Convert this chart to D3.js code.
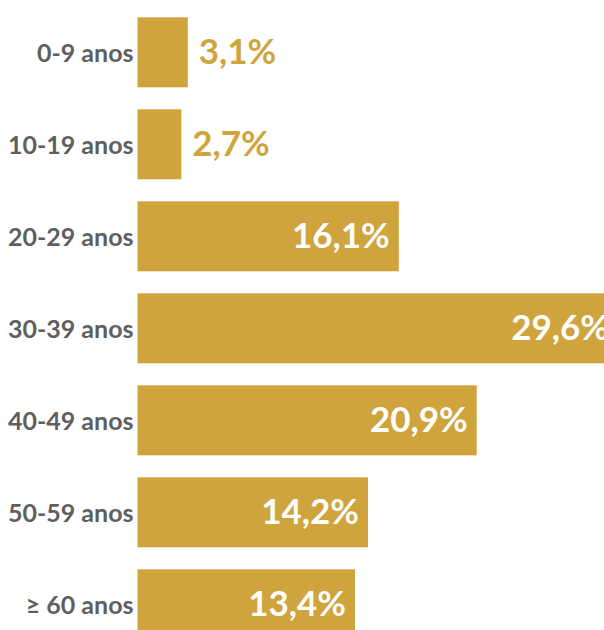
<!DOCTYPE html>
<html>
<head>
<meta charset="utf-8">
<script src="https://cdn.jsdelivr.net/npm/d3@7"></script>
<style>
  html, body { margin: 0; padding: 0; background: #fff; overflow: hidden; }
  svg { display: block; }
</style>
</head>
<body>
<div id="chart"></div>
<script>
  // Faixas etárias e percentuais
  var faixas = ["0-9 anos", "10-19 anos", "20-29 anos", "30-39 anos", "40-49 anos", "50-59 anos", "\u2265 60 anos"];
  var percentuais = [3.1, 2.7, 16.1, 29.6, 20.9, 14.2, 13.4];
  var rotulos = ["3,1%", "2,7%", "16,1%", "29,6%", "20,9%", "14,2%", "13,4%"];

  var W = 604, H = 630;
  var gold = "#cfa43d";
  var grey = "#5f5f5f";
  var fontFam = "Lato, 'Open Sans', sans-serif";

  var data = faixas.map(function (f, i) { return { faixa: f, valor: percentuais[i], rotulo: rotulos[i] }; });

  var svg = d3.select("#chart").append("svg").attr("width", W).attr("height", H);

  var x = d3.scaleLinear().domain([0, 29.6]).range([137.5, 137.5 + 29.6 * 16.23]);
  var y = d3.scaleBand()
    .domain(faixas)
    .range([17.3, 17.3 + 92 * (7 - 22 / 92)])
    .paddingInner(22 / 92)
    .paddingOuter(0);

  // Barras
  svg.selectAll(".bar")
    .data(data)
    .join("rect")
    .attr("class", "bar")
    .attr("x", x(0))
    .attr("y", function (d) { return y(d.faixa); })
    .attr("width", function (d) { return x(d.valor) - x(0); })
    .attr("height", y.bandwidth())
    .attr("fill", gold);

  // Rótulos das categorias
  svg.selectAll(".cat")
    .data(data)
    .join("text")
    .attr("class", "cat")
    .attr("x", x(0) - 4)
    .attr("y", function (d) { return y(d.faixa) + y.bandwidth() / 2 + 10; })
    .attr("text-anchor", "end")
    .attr("font-family", fontFam)
    .attr("font-weight", 700)
    .attr("font-size", 25)
    .attr("fill", grey)
    .text(function (d) { return d.faixa; });

  // Rótulos dos valores: fora da barra quando pequena
  svg.selectAll(".val")
    .data(data)
    .join("text")
    .attr("class", "val")
    .attr("x", function (d) { return d.valor < 5 ? x(d.valor) + 11 : x(d.valor) - 9; })
    .attr("y", function (d) { return y(d.faixa) + y.bandwidth() / 2 + 12; })
    .attr("text-anchor", function (d) { return d.valor < 5 ? "start" : "end"; })
    .attr("font-family", fontFam)
    .attr("font-weight", 700)
    .attr("font-size", 35)
    .attr("fill", function (d) { return d.valor < 5 ? gold : "#fff"; })
    .text(function (d) { return d.rotulo; });
</script>
</body>
</html>
